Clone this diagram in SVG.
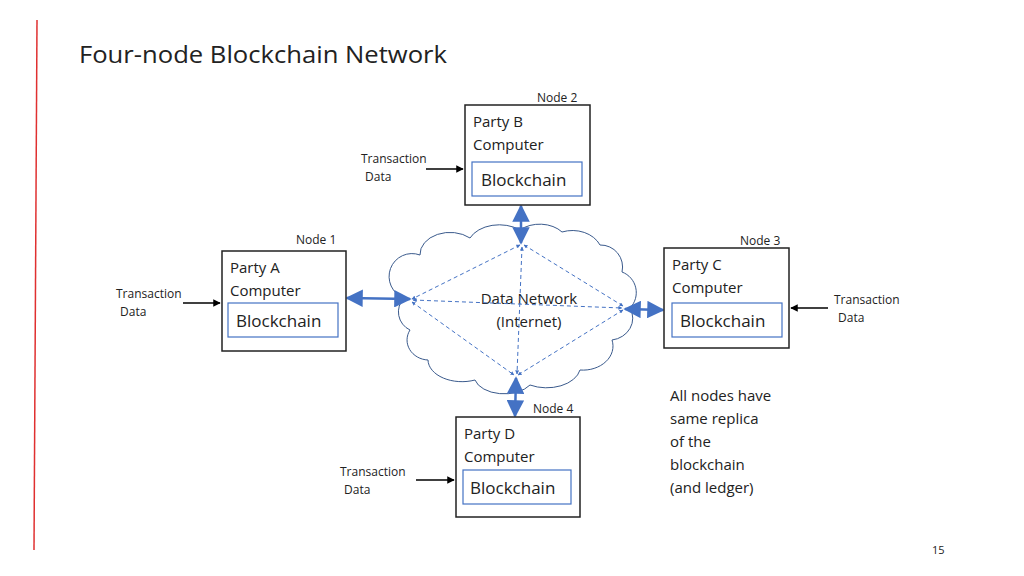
<svg xmlns="http://www.w3.org/2000/svg" width="1024" height="576" viewBox="0 0 1024 576">
<defs>
<marker id="a" viewBox="0 0 10 10" refX="9" refY="5" markerWidth="4" markerHeight="4" orient="auto-start-reverse"><path d="M0,0L10,5L0,10z" fill="#4472C4"/></marker>
<marker id="b" viewBox="0 0 10 10" refX="9" refY="5" markerWidth="7" markerHeight="7" orient="auto-start-reverse"><path d="M0,0L10,5L0,10z" fill="#4472C4"/></marker>
<marker id="k" viewBox="0 0 10 10" refX="9" refY="5" markerWidth="5" markerHeight="5" orient="auto"><path d="M0,0L10,5L0,10z" fill="#000"/></marker>
</defs>
<style>
text{font-family:"Open Sans","Liberation Sans",sans-serif;fill:#222}
.box{fill:#fff;stroke:#222;stroke-width:1.5}
.in{fill:#fff;stroke:#4472C4;stroke-width:1.2}
.t{font-size:15px}.s{font-size:12px}.bc{font-size:17px}
.d{stroke:#4472C4;stroke-width:1;stroke-dasharray:4 3;fill:none}
.th{stroke:#4472C4;stroke-width:2.5;fill:none}
.tx{stroke:#000;stroke-width:1.5}
</style>
<rect width="1024" height="576" fill="#fff"/>
<line x1="37" y1="20" x2="34" y2="550" stroke="#e03030" stroke-width="1.5"/>
<text x="79" y="63" font-size="24" textLength="368" lengthAdjust="spacingAndGlyphs">Four-node Blockchain Network</text>
<g id="cloud"><path d="M420,255 A30,22 0 0 1 470,238 A32,22 0 0 1 520,230 A28,20 0 0 1 562,232 A30,24 0 0 1 600,245 A22,22 0 0 1 622,272 A22,22 0 0 1 630,308 A24,22 0 0 1 612,340 A30,24 0 0 1 580,370 A34,22 0 0 1 530,385 A30,18 0 0 1 475,380 A34,22 0 0 1 428,360 A22,20 0 0 1 410,330 A20,20 0 0 1 404,298 A22,22 0 0 1 420,255 Z" fill="#fff" stroke="#3a5a8c" stroke-width="1"/>
<text x="529" y="304" class="t" text-anchor="middle">Data Network</text>
<text x="529" y="327" class="t" text-anchor="middle">(Internet)</text></g>
<g id="connectors">
<line x1="520" y1="245" x2="412" y2="299" class="d" marker-start="url(#a)" marker-end="url(#a)"/>
<line x1="524" y1="245" x2="623" y2="306" class="d" marker-start="url(#a)" marker-end="url(#a)"/>
<line x1="522" y1="247" x2="517" y2="374" class="d" marker-start="url(#a)" marker-end="url(#a)"/>
<line x1="413" y1="300" x2="622" y2="308" class="d" marker-start="url(#a)" marker-end="url(#a)"/>
<line x1="412" y1="302" x2="514" y2="375" class="d" marker-start="url(#a)" marker-end="url(#a)"/>
<line x1="623" y1="310" x2="518" y2="375" class="d" marker-start="url(#a)" marker-end="url(#a)"/>
<line x1="521" y1="243" x2="521" y2="206" class="th" marker-start="url(#b)" marker-end="url(#b)"/>
<line x1="410" y1="299" x2="347" y2="298" class="th" marker-start="url(#b)" marker-end="url(#b)"/>
<line x1="625" y1="309" x2="663" y2="310" class="th" marker-start="url(#b)" marker-end="url(#b)"/>
<line x1="516" y1="378" x2="515" y2="416" class="th" marker-start="url(#b)" marker-end="url(#b)"/>
<line x1="426" y1="169" x2="463" y2="169" class="tx" marker-end="url(#k)"/>
<line x1="183" y1="303" x2="220" y2="303" class="tx" marker-end="url(#k)"/>
<line x1="828" y1="308" x2="791" y2="308" class="tx" marker-end="url(#k)"/>
<line x1="416" y1="480" x2="454" y2="480" class="tx" marker-end="url(#k)"/>
</g>
<g id="node2"><text x="537" y="102" class="s">Node 2</text><rect x="465" y="105" width="125" height="100" class="box"/><text x="473" y="127" class="t">Party B</text><text x="473" y="150" class="t">Computer</text><rect x="472" y="162" width="110" height="34" class="in"/><text x="481" y="186" class="bc">Blockchain</text><text x="361" y="163" class="s">Transaction</text><text x="365" y="181" class="s">Data</text></g>
<g id="node1"><text x="296" y="244" class="s">Node 1</text><rect x="222" y="251" width="124" height="100" class="box"/><text x="230" y="273" class="t">Party A</text><text x="230" y="296" class="t">Computer</text><rect x="228" y="303" width="110" height="34" class="in"/><text x="236" y="327" class="bc">Blockchain</text><text x="116" y="298" class="s">Transaction</text><text x="120" y="316" class="s">Data</text></g>
<g id="node3"><text x="740" y="245" class="s">Node 3</text><rect x="664" y="248" width="125" height="100" class="box"/><text x="672" y="270" class="t">Party C</text><text x="672" y="293" class="t">Computer</text><rect x="672" y="303" width="110" height="34" class="in"/><text x="680" y="327" class="bc">Blockchain</text><text x="834" y="304" class="s">Transaction</text><text x="838" y="322" class="s">Data</text></g>
<g id="node4"><text x="533" y="413" class="s">Node 4</text><rect x="456" y="417" width="124" height="100" class="box"/><text x="464" y="439" class="t">Party D</text><text x="464" y="462" class="t">Computer</text><rect x="463" y="470" width="108" height="34" class="in"/><text x="470" y="494" class="bc">Blockchain</text><text x="340" y="476" class="s">Transaction</text><text x="344" y="494" class="s">Data</text></g>
<g id="note" class="t"><text x="670" y="401">All nodes have</text><text x="670" y="424">same replica</text><text x="670" y="447"> of the</text><text x="670" y="470">blockchain</text><text x="670" y="493">(and ledger)</text></g>
<text x="932" y="554" font-size="11" fill="#888">15</text>
</svg>
